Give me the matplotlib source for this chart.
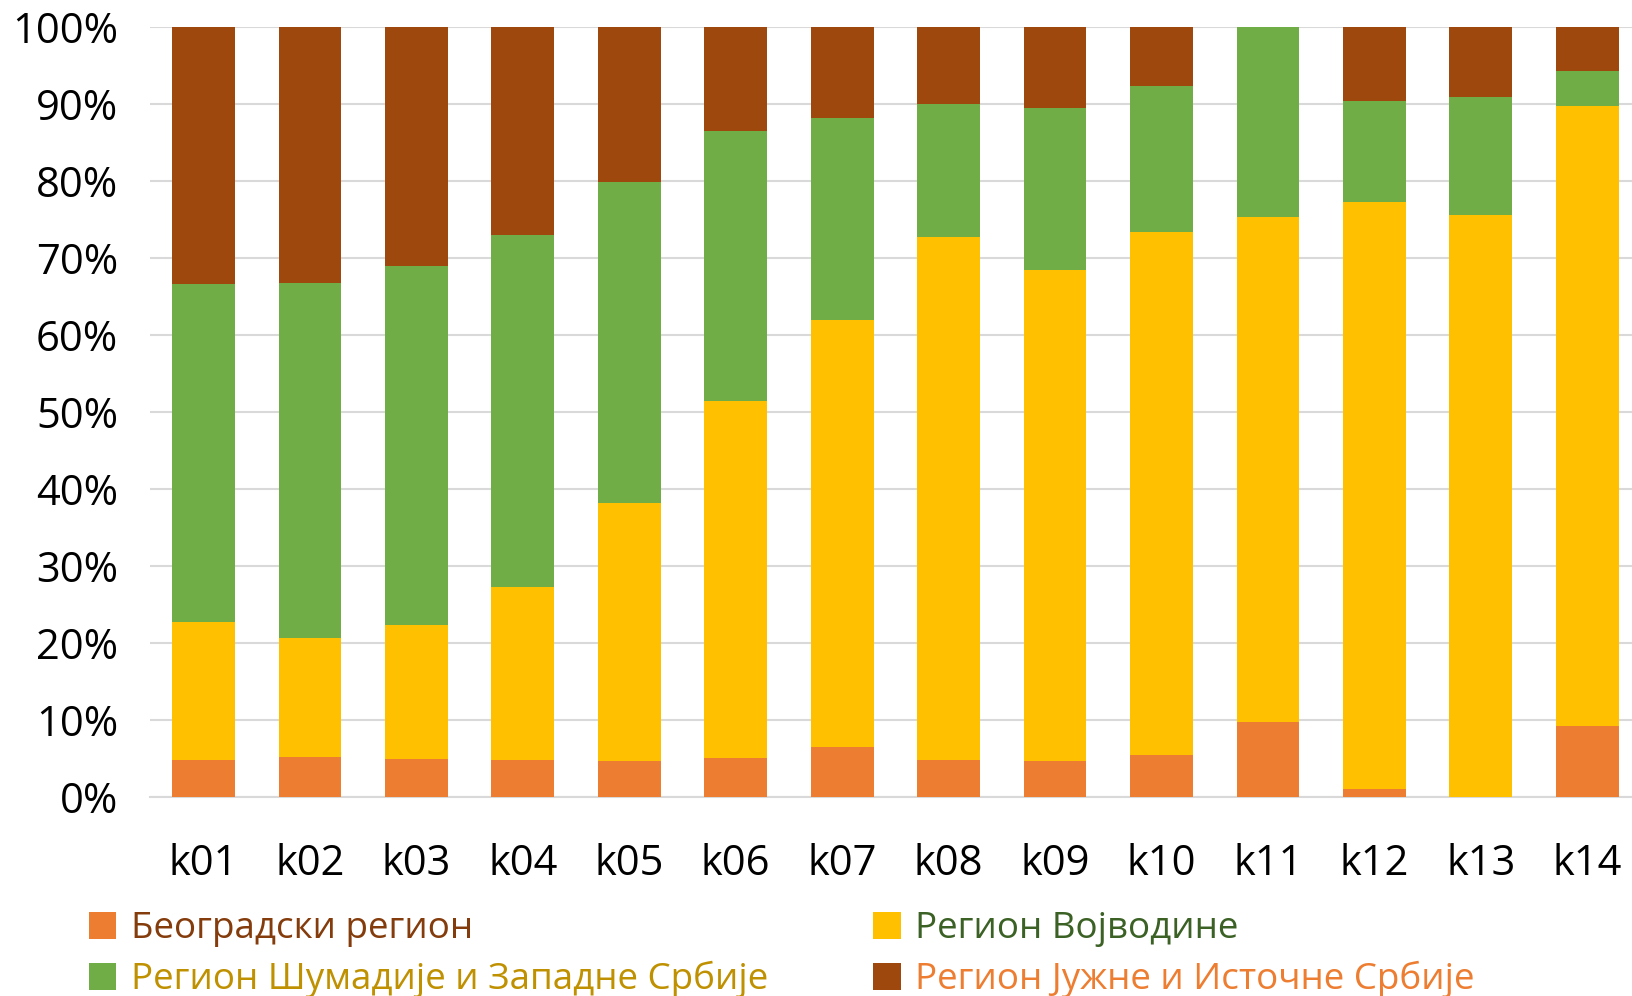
import matplotlib.pyplot as plt
import numpy as np
from matplotlib.patches import Patch

plt.rcParams["font.family"] = ["Open Sans", "DejaVu Sans"]

categories = ["k01", "k02", "k03", "k04", "k05", "k06", "k07",
              "k08", "k09", "k10", "k11", "k12", "k13", "k14"]

# shares in percent
beograd = [4.9, 5.2, 5.0, 4.9, 4.7, 5.1, 6.5, 4.9, 4.7, 5.5, 9.8, 1.1, 0.0, 9.3]
vojvodina = [17.8, 15.5, 17.4, 22.4, 33.5, 46.3, 55.4, 67.8, 63.7, 67.9, 65.5, 76.1, 75.6, 80.4]
sumadija = [43.9, 46.1, 46.5, 45.7, 41.7, 35.0, 26.2, 17.3, 21.1, 18.9, 24.7, 13.1, 15.3, 4.6]
jug = [33.4, 33.2, 31.1, 27.0, 20.1, 13.6, 11.9, 10.0, 10.5, 7.7, 0.0, 9.7, 9.1, 5.7]

series = [
    ("Београдски регион", beograd, "#ED7D31", "#843C0C"),
    ("Регион Војводине", vojvodina, "#FFC000", "#3B6125"),
    ("Регион Шумадије и Западне Србије", sumadija, "#70AD47", "#BF9000"),
    ("Регион Јужне и Источне Србије", jug, "#9E480E", "#ED7D31"),
]

data = np.array([s[1] for s in series], dtype=float)
data = data / data.sum(axis=0) * 100

fig = plt.figure(figsize=(16.32, 9.96), dpi=100)
ax = fig.add_axes([0.0919, 0.1995, 0.9081, 0.7737])

x = np.arange(len(categories))
bottom = np.zeros(len(categories))
handles = {}
for (name, _, color, _), vals in zip(series, data):
    ax.bar(x, vals, 0.59, bottom=bottom, color=color, zorder=3)
    bottom += vals
    handles[name] = Patch(facecolor=color)

ax.set_xlim(-0.503, 13.42)
ax.set_ylim(0, 100)
ax.set_yticks(np.arange(0, 101, 10))
ax.set_yticklabels([f"{v}%" for v in range(0, 101, 10)])
ax.set_xticks(x)
ax.set_xticklabels(categories)
ax.tick_params(length=0, labelsize=30, colors="black")
ax.tick_params(axis="x", pad=33)
ax.tick_params(axis="y", pad=23)
ax.grid(axis="y", color="#D9D9D9", linewidth=1.5, zorder=0)
for side in ["top", "right", "left"]:
    ax.spines[side].set_visible(False)
ax.spines["bottom"].set_color("#D9D9D9")
ax.spines["bottom"].set_linewidth(1.5)

order = [0, 2, 1, 3]
leg = fig.legend(
    [handles[series[i][0]] for i in order],
    [series[i][0] for i in order],
    ncol=2,
    loc="upper left",
    bbox_to_anchor=(0.0543, 0.0854),
    bbox_transform=fig.transFigure,
    frameon=False,
    fontsize=26.5,
    handlelength=0.75,
    handleheight=0.75,
    handletextpad=0.4,
    columnspacing=2.85,
    labelspacing=0.38,
    borderaxespad=0,
    borderpad=0,
)
for i, txt in zip(order, leg.get_texts()):
    txt.set_color(series[i][3])

fig.savefig("out.png", dpi=100)
